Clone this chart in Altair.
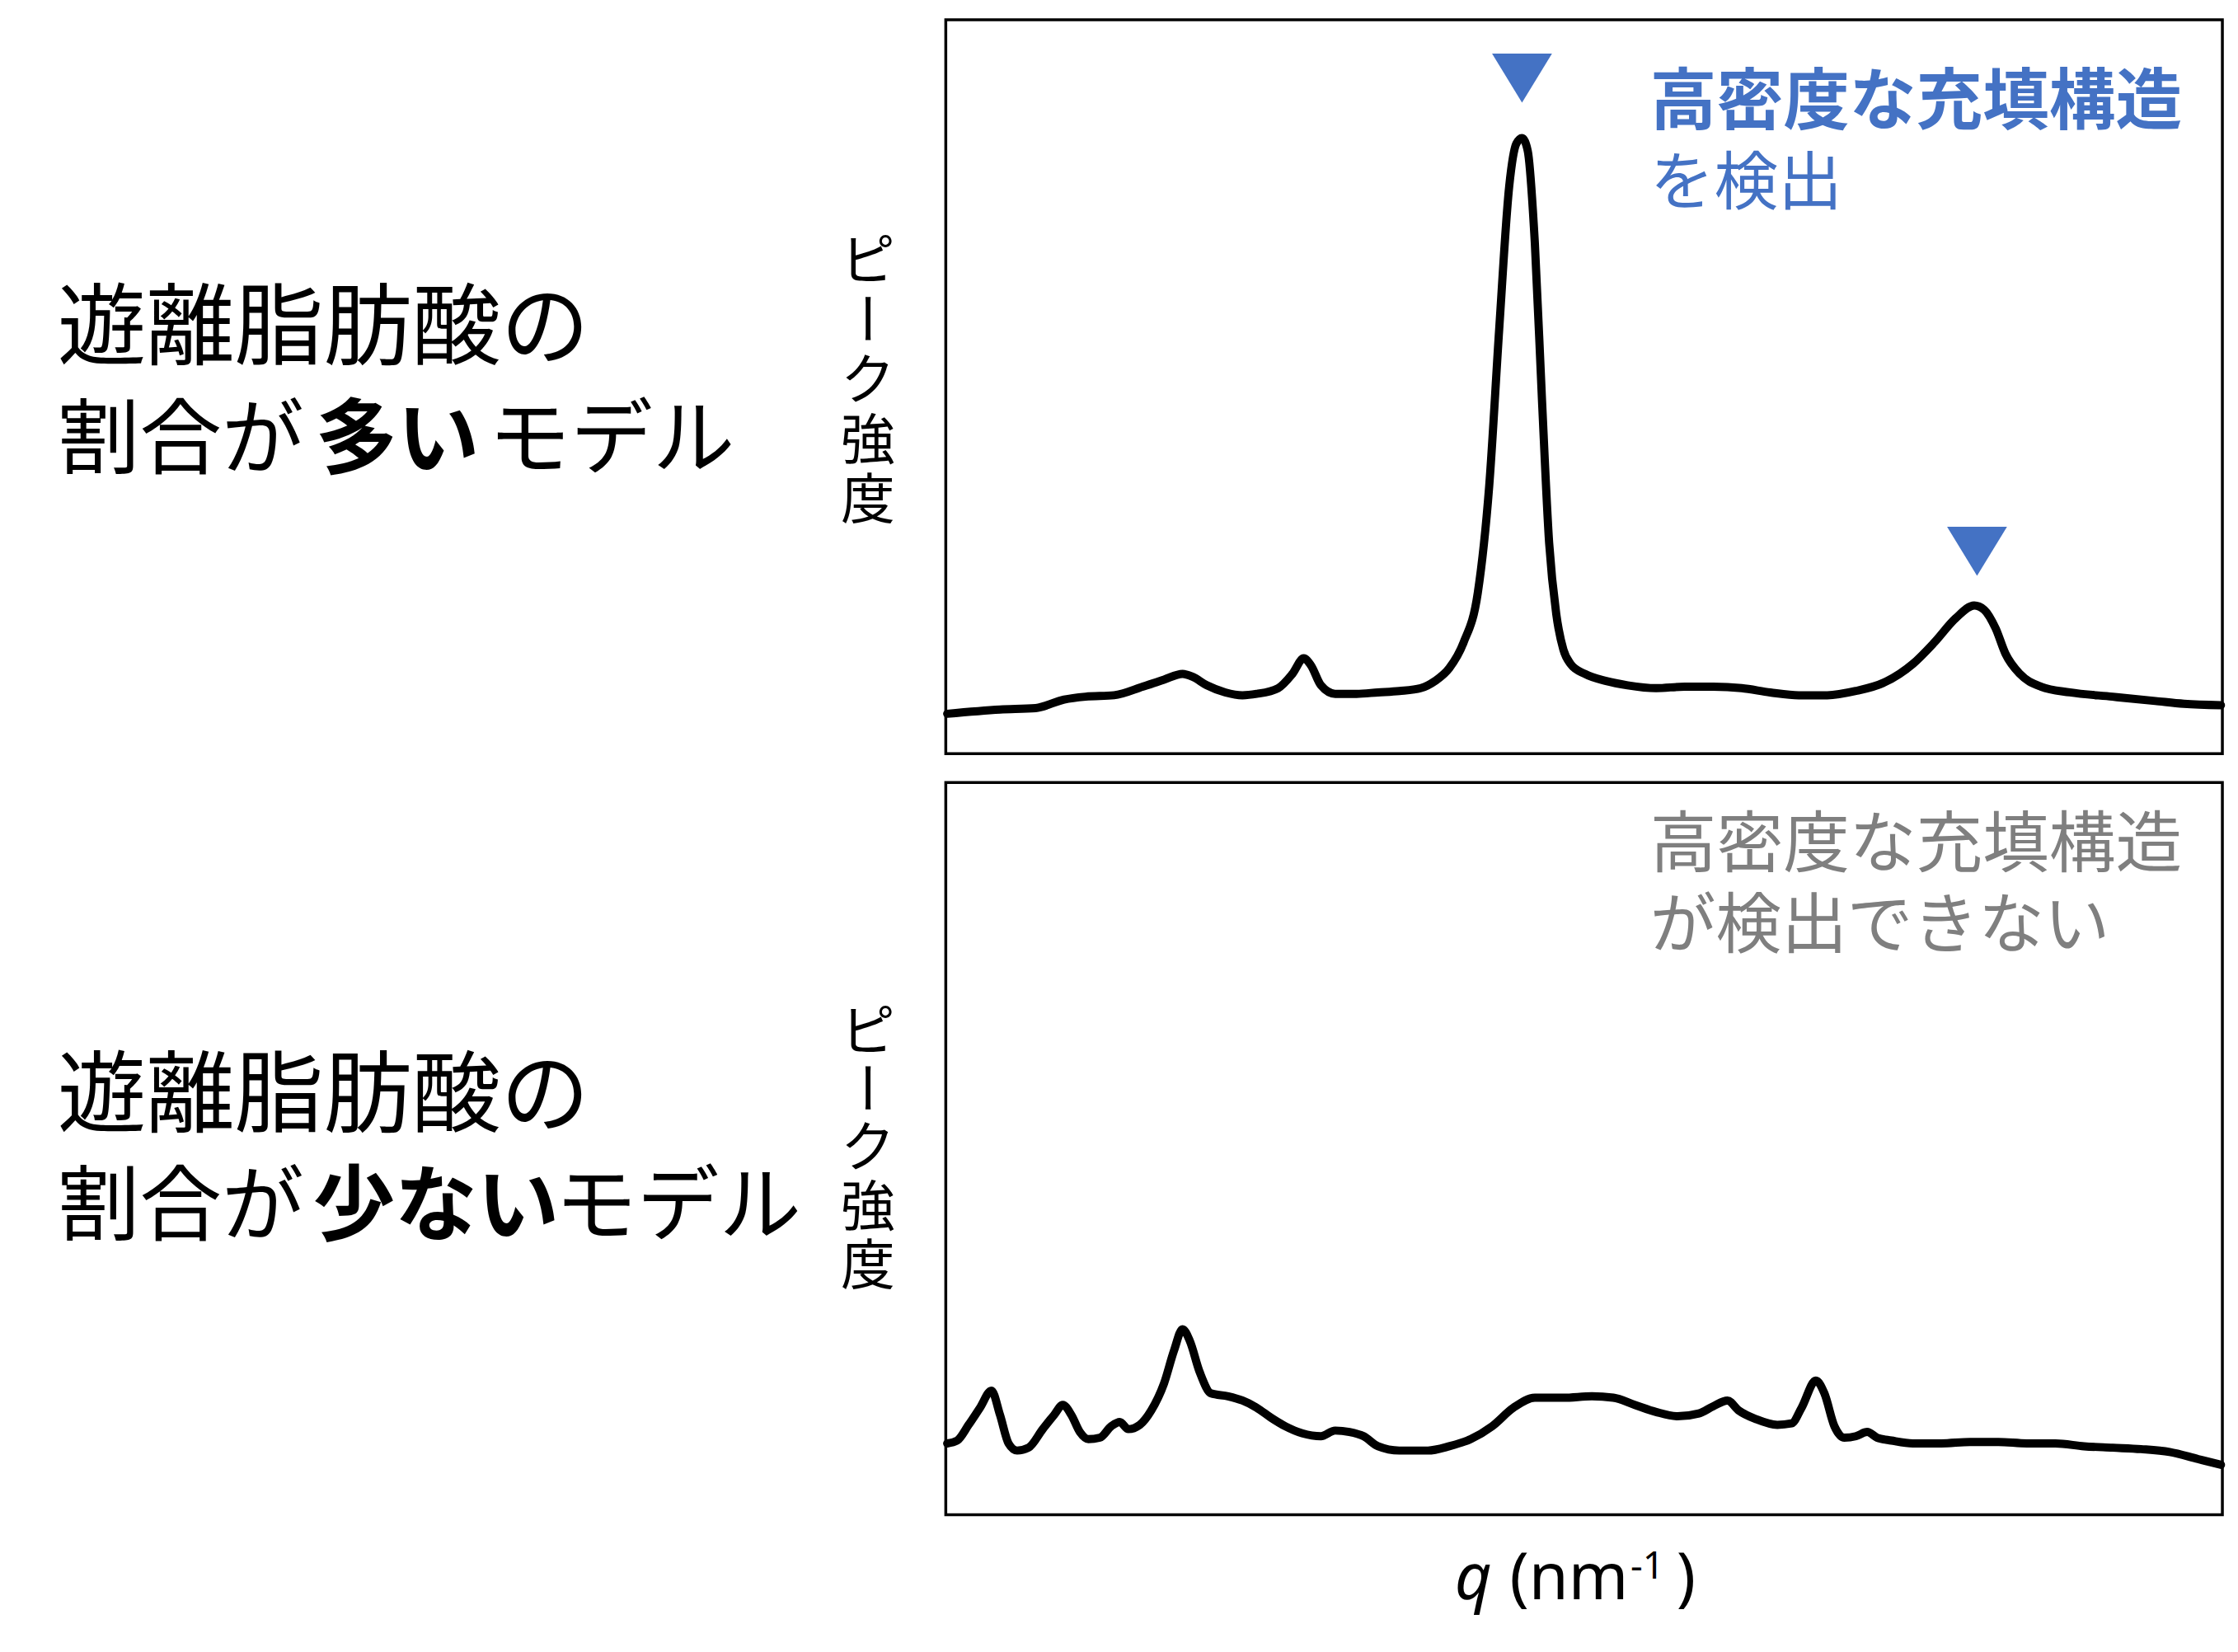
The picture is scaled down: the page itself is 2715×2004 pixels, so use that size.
import altair as alt
import pandas as pd

# ---------------- data ----------------
# q in arbitrary units across the panel (0-895), intensity in arbitrary units
top_q = [1, 38, 63, 83, 98, 118, 138, 153, 166, 173, 183, 196, 208, 218, 233, 243,
         251, 256, 263, 273, 288, 303, 318, 333, 343, 353, 363, 373, 381, 388, 395,
         400, 404, 408, 413, 418, 423, 428, 433, 438, 448, 463, 478, 498, 518, 538,
         558, 578, 598, 618, 638, 658, 678, 693, 708, 721, 728, 736, 743, 753, 768,
         788, 818, 848, 868, 894]
top_intensity = [28, 31, 32, 38, 40, 41, 47, 52, 56, 54, 48, 43, 41, 42, 46, 56,
                 67, 62, 48, 42, 42, 43, 44, 46, 51, 60, 78, 113, 188, 298, 398,
                 428, 432, 423, 358, 248, 148, 98, 73, 63, 56, 51, 48, 46, 47, 47,
                 46, 43, 41, 41, 44, 50, 63, 78, 95, 104, 101, 88, 70, 56, 47,
                 43, 40, 37, 35, 34]

bottom_q = [1, 8, 16, 24, 32, 38, 44, 50, 58, 68, 76, 82, 88, 94, 100, 108, 116,
            122, 128, 136, 144, 153, 160, 166, 171, 178, 186, 198, 208, 218, 228,
            238, 250, 263, 273, 283, 293, 303, 318, 338, 353, 368, 383, 398, 413,
            433, 453, 468, 483, 498, 513, 528, 538, 548, 556, 568, 583, 593, 600,
            610, 616, 623, 630, 638, 646, 653, 663, 678, 698, 718, 738, 758, 778,
            798, 818, 838, 858, 878, 894]
bottom_intensity = [50, 52, 63, 75, 87, 70, 50, 45, 47, 60, 70, 77, 70, 58, 53, 54,
                    62, 65, 60, 63, 73, 92, 115, 130, 122, 100, 85, 83, 80, 75, 68,
                    62, 57, 55, 59, 58, 55, 48, 45, 45, 48, 53, 62, 75, 82, 82, 83,
                    82, 77, 72, 69, 71, 76, 80, 73, 67, 63, 64, 75, 94, 85, 62, 54,
                    55, 58, 54, 52, 50, 50, 51, 51, 50, 50, 48, 47, 46, 44, 39, 35]

marker_q = [404, 723]
marker_intensity = [474, 142]

left_line1 = "遊離脂肪酸の"
top_line2 = ["割合が", "多い", "モデル"]
bottom_line2 = ["割合が", "少ない", "モデル"]
ylabel_chars = ["ピ", "ー", "ク", "強", "度"]
top_note = ["高密度な充填構造", "を検出"]
bottom_note = ["高密度な充填構造", "が検出できない"]
xlabel_parts = ["q", "(nm", "-1", ")"]

# ---------------- styles ----------------
JP = "Noto Sans CJK JP"
BLUE = "#4472C4"
GRAY = "#7F7F7F"
W = 1555
H_TOP = 894
H_BOT = 892
X_DOMAIN = [0, 895]

top_df = pd.DataFrame({"q": top_q, "intensity": top_intensity})
bot_df = pd.DataFrame({"q": bottom_q, "intensity": bottom_intensity})
mk_df = pd.DataFrame({"q": marker_q, "intensity": marker_intensity})


def label(txt, x, y, size, weight="normal", color="black", angle=0,
          align="left", baseline="alphabetic", font=JP, style="normal"):
    return alt.Chart(alt.Data(values=[{}])).mark_text(
        text=txt, fontSize=size, fontWeight=weight, color=color, angle=angle,
        align=align, baseline=baseline, font=font, fontStyle=style
    ).encode(x=alt.value(x), y=alt.value(y))


def curve(df, ymax):
    return alt.Chart(df).mark_line(
        color="black", strokeWidth=10, interpolate="monotone",
        strokeJoin="round", strokeCap="round"
    ).encode(
        x=alt.X("q:Q", scale=alt.Scale(domain=X_DOMAIN, nice=False, zero=False), axis=None),
        y=alt.Y("intensity:Q", scale=alt.Scale(domain=[0, ymax], nice=False), axis=None),
    )


LX = -1082
ylab_top = [291, 364, 437, 510, 583]
ylab_bot = [301, 372, 443, 515, 586]


def ylabel_layers(centers):
    # vertical writing: one upright character per row, the long-vowel mark turned upright
    out = []
    for ch, cy in zip(ylabel_chars, centers):
        if ch == "ー":
            out.append(label(ch, -100, cy, 66, angle=90, align="center", baseline="middle"))
        else:
            out.append(label(ch, -95, cy + 5, 66, align="center", baseline="middle"))
    return out


triangles = alt.Chart(mk_df).mark_point(
    shape="M-1,-0.82L1,-0.82L0,0.82Z", filled=True, color=BLUE, opacity=1,
    size=5329, strokeWidth=0
).encode(
    x=alt.X("q:Q", scale=alt.Scale(domain=X_DOMAIN, nice=False, zero=False), axis=None),
    y=alt.Y("intensity:Q", scale=alt.Scale(domain=[0, 515], nice=False), axis=None),
)

top_layers = [
    curve(top_df, 515),
    triangles,
    label(top_note[0], 858, 127, 81, weight="bold", color=BLUE),
    label(top_note[1], 858, 225, 78, color=BLUE),
    label(left_line1, LX, 412, 108),
    label(top_line2[0], LX, 545, 100),
    label(top_line2[1], -768, 545, 100, weight="bold"),
    label(top_line2[2], -557, 545, 100),
] + ylabel_layers(ylab_top)

bottom_layers = [
    curve(bot_df, 513),
    label(bottom_note[0], 858, 102, 81, color=GRAY),
    label(bottom_note[1], 858, 201, 80, color=GRAY),
    label(left_line1, LX, 418, 108),
    label(bottom_line2[0], LX, 550, 100),
    label(bottom_line2[1], -771, 550, 100, weight="bold"),
    label(bottom_line2[2], -476, 550, 100),
    label(xlabel_parts[0], 620, 995, 78, font="Noto Sans", style="italic"),
    label(xlabel_parts[1], 687, 995, 78, font="Noto Sans"),
    label(xlabel_parts[2], 834, 970, 46, font="Noto Sans"),
    label(xlabel_parts[3], 890, 995, 78, font="Noto Sans"),
] + ylabel_layers(ylab_bot)

top = alt.layer(*top_layers).properties(width=W, height=H_TOP)
bottom = alt.layer(*bottom_layers).properties(width=W, height=H_BOT)

chart = alt.vconcat(top, bottom, spacing=31).properties(
    padding={"left": 60, "top": 10, "right": 5, "bottom": 5},
    background="white",
).configure_view(stroke="black", strokeWidth=3.5)

chart.save("out.html", embed_options={"renderer": "svg", "actions": False})
